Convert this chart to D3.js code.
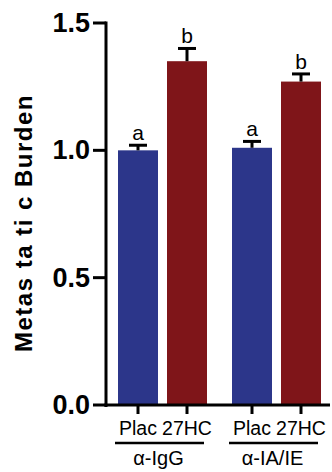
<!DOCTYPE html>
<html>
<head>
<meta charset="utf-8">
<script src="https://cdn.jsdelivr.net/npm/d3@7"></script>
<style>
  html, body { margin: 0; padding: 0; background: #fff; }
  svg { display: block; font-family: "Liberation Sans", Arial, Helvetica, sans-serif; }
</style>
</head>
<body>
<svg id="chart" width="332" height="472"></svg>
<script>
// Groups (antibody treatment) and the two conditions within each group
const groups = ["α-IgG", "α-IA/IE"];
const conditions = ["Plac", "27HC"];
const conditionColors = ["#2c368a", "#7f1519"];

// Mean metastatic burden and SEM, per group, ordered as in `conditions`
const means = [[1.00, 1.35], [1.01, 1.27]];
const sems = [[0.02, 0.05], [0.025, 0.03]];
const sigLetters = [["a", "b"], ["a", "b"]];

const yTicks = [0.0, 0.5, 1.0, 1.5];
const yTickLabels = ["0.0", "0.5", "1.0", "1.5"];

const svg = d3.select("#chart");

const y = d3.scaleLinear().domain([0, 1.5]).range([405, 23]);
const axisX = 106;

const x0 = d3.scaleBand().domain(groups).range([118, 321]).paddingInner(25 / 114).paddingOuter(0);
const x1 = d3.scaleBand().domain(conditions).range([0, x0.bandwidth()]).paddingInner(9 / 49).paddingOuter(0);

// Flatten data for drawing
const rows = [];
groups.forEach((g, gi) => conditions.forEach((c, ci) => {
  rows.push({ g, c, ci, mean: means[gi][ci], sem: sems[gi][ci], letter: sigLetters[gi][ci] });
}));
const cx = d => x0(d.g) + x1(d.c) + x1.bandwidth() / 2;

// Bars
svg.append("g").selectAll("rect").data(rows).join("rect")
  .attr("x", d => x0(d.g) + x1(d.c))
  .attr("y", d => y(d.mean))
  .attr("width", x1.bandwidth())
  .attr("height", d => y(0) - y(d.mean))
  .attr("fill", d => conditionColors[d.ci]);

// Upper error bars
const eb = svg.append("g").attr("stroke", "#000").attr("stroke-width", 3);
eb.selectAll("line.stem").data(rows).join("line").attr("class", "stem")
  .attr("x1", cx).attr("x2", cx)
  .attr("y1", d => y(d.mean)).attr("y2", d => y(d.mean + d.sem));
eb.selectAll("line.cap").data(rows).join("line").attr("class", "cap")
  .attr("x1", d => cx(d) - 9).attr("x2", d => cx(d) + 9)
  .attr("y1", d => y(d.mean + d.sem)).attr("y2", d => y(d.mean + d.sem));

// Significance letters
svg.append("g").selectAll("text").data(rows).join("text")
  .attr("x", cx)
  .attr("y", d => y(d.mean + d.sem) - 5)
  .attr("text-anchor", "middle")
  .attr("font-size", 21)
  .text(d => d.letter);

// Y axis
const yAxis = svg.append("g");
yAxis.append("line")
  .attr("x1", axisX).attr("x2", axisX)
  .attr("y1", y(1.5) - 1.5).attr("y2", y(0) + 2)
  .attr("stroke", "#000").attr("stroke-width", 3);
yAxis.selectAll("line.tick").data(yTicks).join("line").attr("class", "tick")
  .attr("x1", 93).attr("x2", axisX)
  .attr("y1", d => y(d)).attr("y2", d => y(d))
  .attr("stroke", "#000").attr("stroke-width", 3);
yAxis.selectAll("text").data(yTicks).join("text")
  .attr("x", 90)
  .attr("y", d => y(d))
  .attr("dy", "0.33em")
  .attr("text-anchor", "end")
  .attr("font-size", 27)
  .attr("font-weight", "bold")
  .text((d, i) => yTickLabels[i]);

// Y axis title
svg.append("text")
  .attr("transform", "translate(32," + 223 + ") rotate(-90)")
  .attr("text-anchor", "middle")
  .attr("font-size", 24)
  .attr("font-weight", "bold")
  .attr("letter-spacing", 1.5)
  .text("Metas ta ti c Burden");

// X axis
const xAxis = svg.append("g");
xAxis.append("line")
  .attr("x1", axisX - 1.5).attr("x2", 330)
  .attr("y1", y(0)).attr("y2", y(0))
  .attr("stroke", "#000").attr("stroke-width", 3);
xAxis.selectAll("line.tick").data(rows).join("line").attr("class", "tick")
  .attr("x1", cx).attr("x2", cx)
  .attr("y1", y(0)).attr("y2", y(0) + 9)
  .attr("stroke", "#000").attr("stroke-width", 3);
xAxis.selectAll("text.cond").data(rows).join("text").attr("class", "cond")
  .attr("x", cx)
  .attr("y", 435)
  .attr("text-anchor", "middle")
  .attr("font-size", 19.5)
  .text(d => d.c);

// Group brackets and labels
const gl = svg.append("g");
gl.selectAll("line").data(groups).join("line")
  .attr("x1", g => x0(g) - 3).attr("x2", g => x0(g) + x0.bandwidth() - 3)
  .attr("y1", 443).attr("y2", 443)
  .attr("stroke", "#000").attr("stroke-width", 2.5);
gl.selectAll("text").data(groups).join("text")
  .attr("x", g => x0(g) + x0.bandwidth() / 2 - 4)
  .attr("y", 465)
  .attr("text-anchor", "middle")
  .attr("font-size", 20)
  .text(g => g);
</script>
</body>
</html>
